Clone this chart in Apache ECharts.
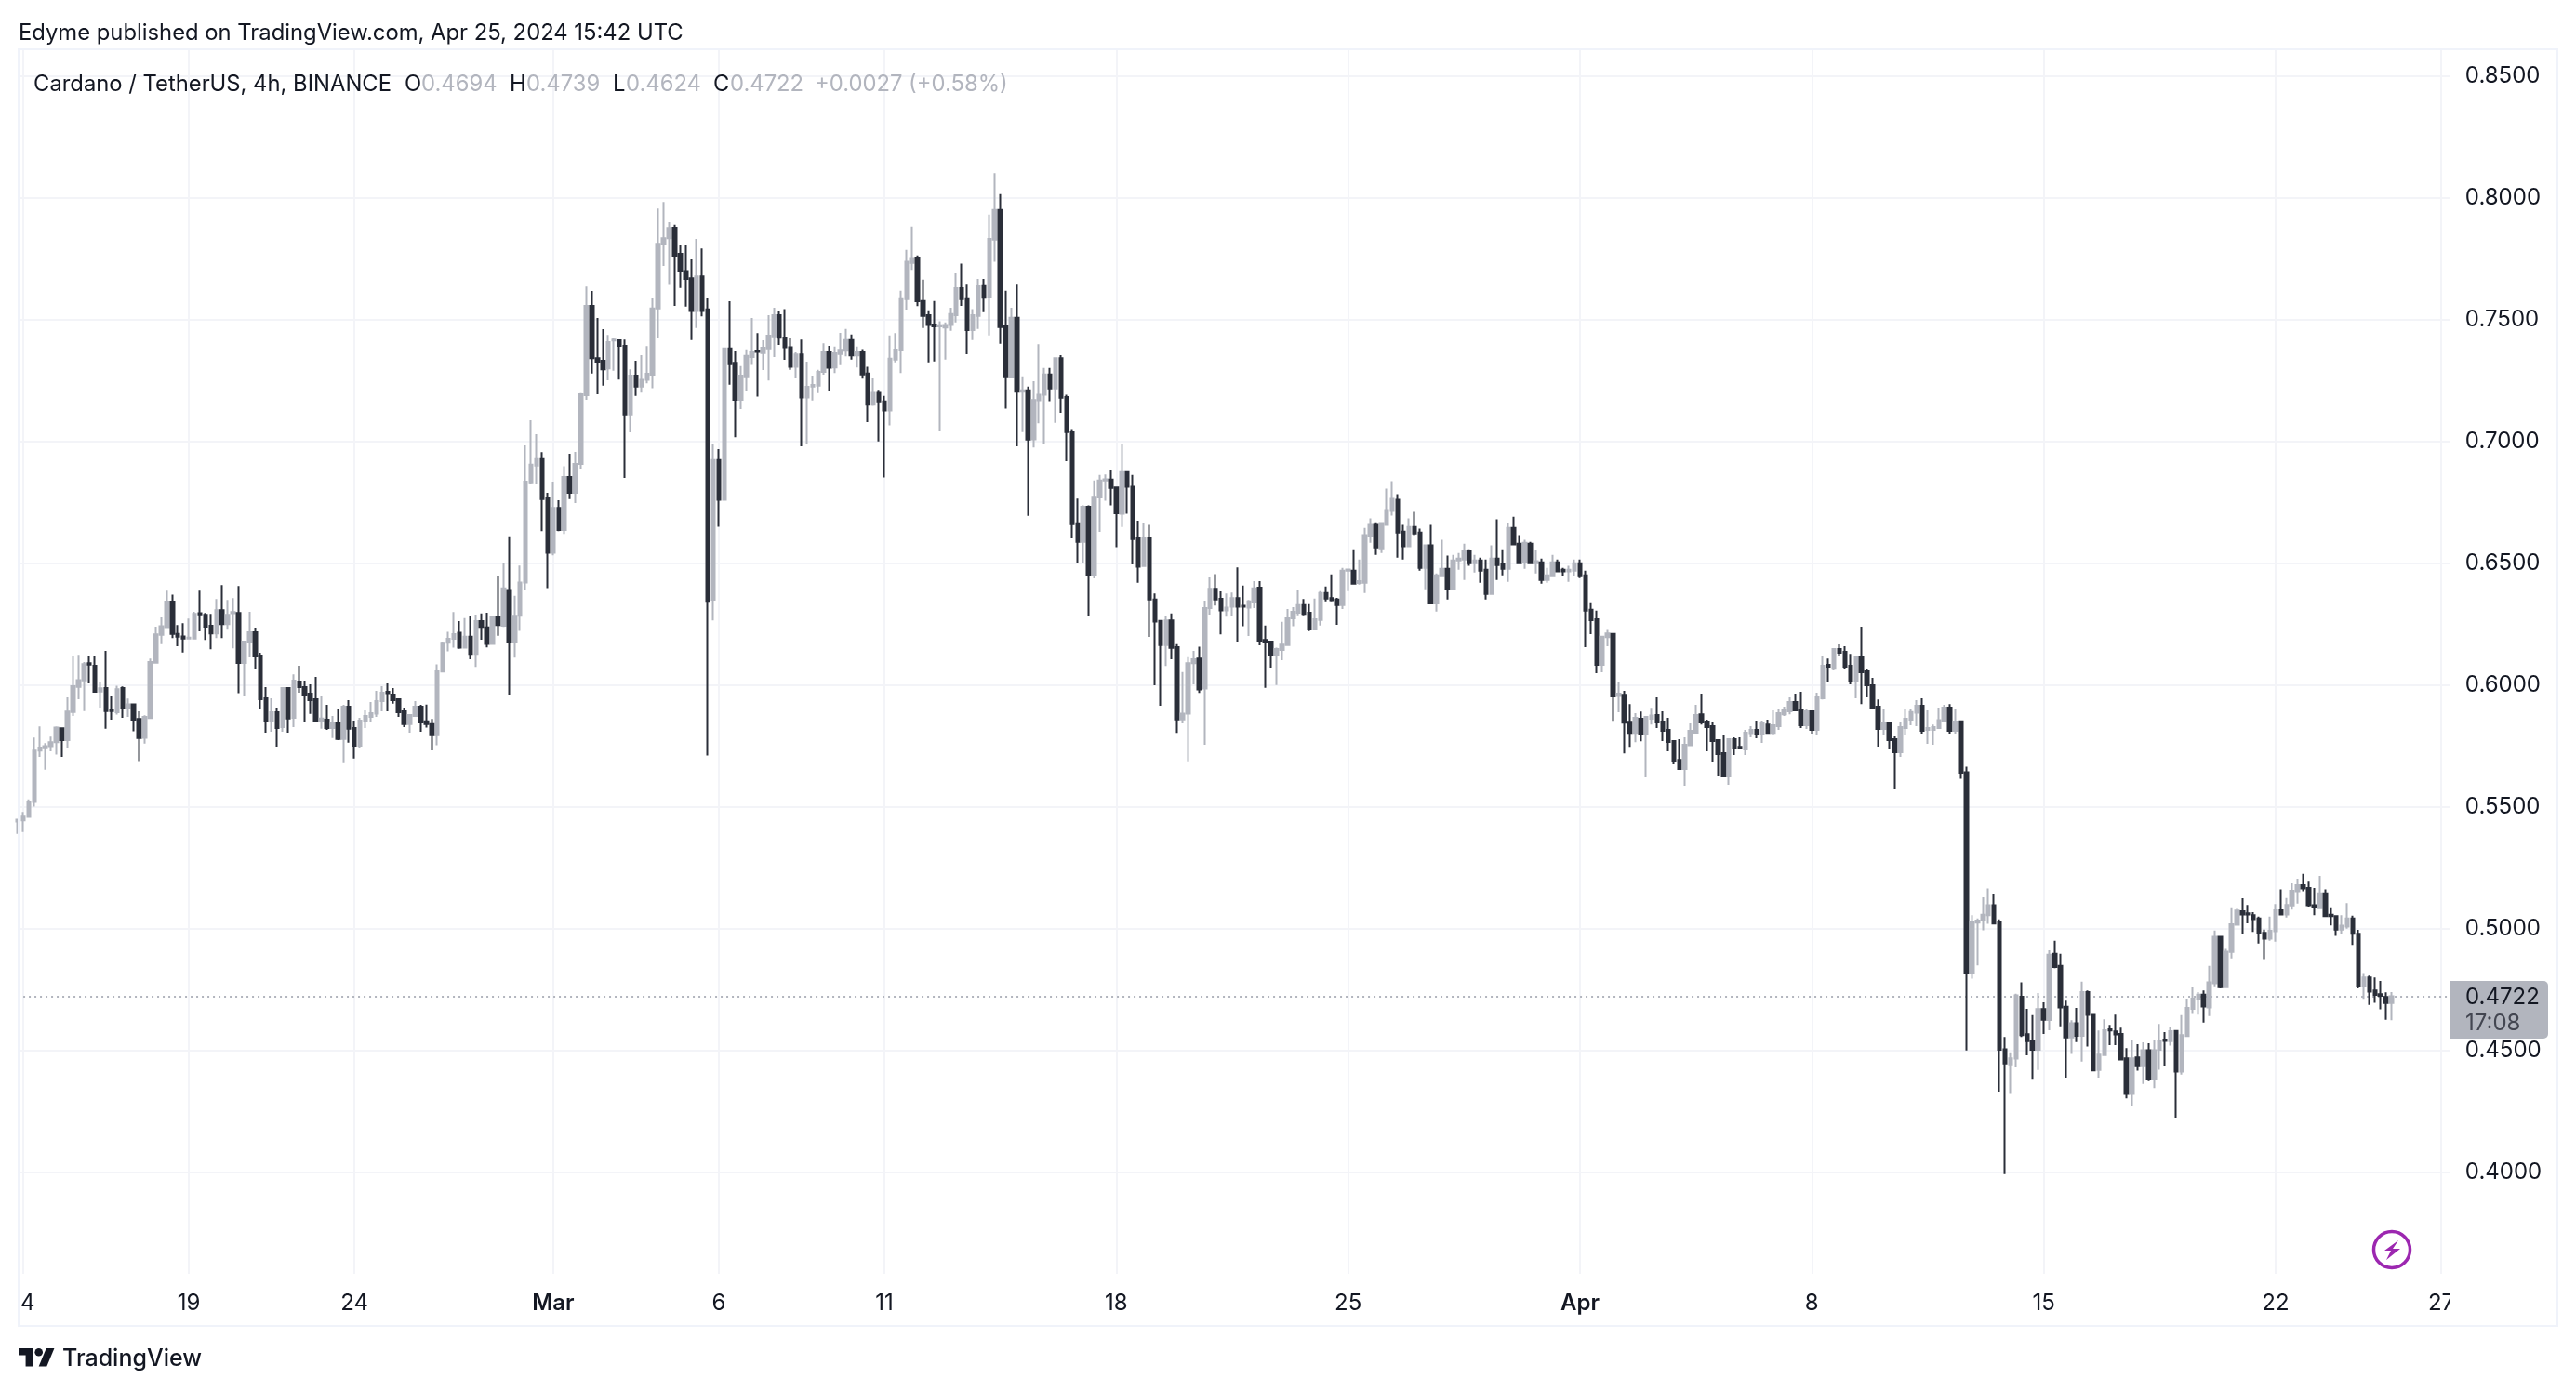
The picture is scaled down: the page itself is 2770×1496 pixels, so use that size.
<!DOCTYPE html>
<html>
<head>
<meta charset="utf-8">
<title>Cardano / TetherUS, 4h</title>
<script src="https://cdn.jsdelivr.net/npm/echarts@6/dist/echarts.min.js"></script>
<style>
  html, body { margin: 0; background: #ffffff; }
  #chart { width: 2770px; height: 1496px; }
</style>
</head>
<body>
<div id="chart"></div>
<script>
// 4h candles: [open, close, low, high]
const ohlc = [
  [.5440,.5447,.5389,.5447],[.5444,.5460,.5397,.5479],[.5459,.5522,.5459,.5530],[.5520,.5731,.5501,.5784],
  [.5731,.5743,.5705,.5830],[.5740,.5749,.5652,.5761],[.5749,.5765,.5728,.5788],[.5765,.5825,.5714,.5830],
  [.5822,.5774,.5705,.5825],[.5774,.5891,.5740,.5949],[.5889,.5995,.5873,.6117],[.5992,.6020,.5942,.6124],
  [.6019,.6086,.5893,.6094],[.6089,.6084,.6006,.6117],[.6079,.5972,.5968,.6117],[.5973,.5986,.5907,.6013],
  [.5987,.5893,.5820,.6140],[.5898,.5893,.5858,.5956],[.5888,.5983,.5879,.5997],[.5987,.5907,.5865,.5994],
  [.5907,.5921,.5869,.5944],[.5921,.5858,.5810,.5921],[.5860,.5782,.5688,.5892],[.5783,.5869,.5759,.5876],
  [.5864,.6094,.5863,.6109],[.6091,.6208,.6091,.6239],[.6206,.6241,.6168,.6277],[.6237,.6342,.6235,.6387],
  [.6342,.6210,.6193,.6371],[.6210,.6198,.6159,.6246],[.6199,.6191,.6133,.6254],[.6191,.6194,.6191,.6273],
  [.6191,.6292,.6191,.6300],[.6295,.6290,.6220,.6387],[.6288,.6239,.6185,.6296],[.6243,.6212,.6147,.6292],
  [.6212,.6307,.6193,.6353],[.6307,.6250,.6193,.6410],[.6250,.6288,.6227,.6349],[.6295,.6299,.6151,.6357],
  [.6296,.6090,.5966,.6406],[.6090,.6178,.5957,.6182],[.6178,.6216,.6113,.6300],[.6216,.6117,.6064,.6235],
  [.6121,.5942,.5903,.6132],[.5945,.5854,.5804,.5991],[.5854,.5888,.5808,.5945],[.5888,.5823,.5747,.5907],
  [.5827,.5987,.5808,.5987],[.5987,.5862,.5804,.5987],[.5865,.6018,.5827,.6044],[.6014,.5991,.5968,.6079],
  [.5991,.5961,.5846,.6018],[.5964,.5938,.5881,.6003],[.5942,.5854,.5850,.6033],[.5854,.5862,.5820,.5953],
  [.5858,.5823,.5816,.5919],[.5823,.5843,.5782,.5873],[.5843,.5778,.5774,.5900],[.5778,.5911,.5679,.5919],
  [.5911,.5820,.5763,.5938],[.5823,.5751,.5698,.5854],[.5751,.5854,.5743,.5865],[.5850,.5873,.5823,.5896],
  [.5869,.5884,.5846,.5930],[.5882,.5934,.5869,.5976],[.5934,.5968,.5892,.5995],[.5972,.5966,.5892,.6006],
  [.5961,.5938,.5923,.5987],[.5942,.5888,.5869,.5942],[.5892,.5839,.5827,.5907],[.5839,.5877,.5804,.5877],
  [.5873,.5911,.5869,.5934],[.5911,.5846,.5808,.5919],[.5851,.5839,.5825,.5920],[.5839,.5794,.5732,.5860],
  [.5794,.6056,.5753,.6085],[.6055,.6173,.6055,.6178],[.6173,.6190,.6138,.6218],[.6190,.6209,.6153,.6299],
  [.6214,.6153,.6149,.6262],[.6153,.6198,.6153,.6275],[.6198,.6128,.6106,.6284],[.6128,.6262,.6074,.6289],
  [.6262,.6238,.6186,.6294],[.6236,.6169,.6154,.6297],[.6169,.6278,.6169,.6278],[.6281,.6246,.6202,.6446],
  [.6243,.6397,.6238,.6503],[.6390,.6177,.5961,.6610],[.6177,.6284,.6112,.6366],[.6284,.6421,.6222,.6490],
  [.6421,.6835,.6390,.6984],[.6832,.6904,.6827,.7087],[.6901,.6927,.6827,.7029],[.6927,.6763,.6631,.6956],
  [.6766,.6543,.6398,.6789],[.6543,.6727,.6532,.6835],[.6727,.6636,.6631,.6758],[.6636,.6854,.6620,.6898],
  [.6854,.6789,.6763,.6949],[.6789,.6907,.6747,.6957],[.6907,.7193,.6888,.7198],[.7190,.7556,.7171,.7635],
  [.7556,.7341,.7278,.7617],[.7341,.7327,.7193,.7506],[.7331,.7296,.7229,.7461],[.7299,.7407,.7251,.7437],
  [.7414,.7418,.7290,.7423],[.7415,.7392,.7254,.7418],[.7392,.7110,.6850,.7418],[.7110,.7270,.7037,.7296],
  [.7270,.7225,.7187,.7331],[.7225,.7253,.7200,.7354],[.7253,.7277,.7238,.7391],[.7274,.7546,.7218,.7590],
  [.7546,.7811,.7423,.7956],[.7810,.7834,.7720,.7983],[.7834,.7876,.7646,.7900],[.7877,.7762,.7556,.7889],
  [.7770,.7698,.7630,.7808],[.7699,.7667,.7553,.7808],[.7670,.7535,.7416,.7747],[.7535,.7677,.7465,.7831],
  [.7677,.7535,.7513,.7792],[.7542,.6345,.5711,.7590],[.6350,.6923,.6265,.6988],[.6923,.6760,.6650,.6968],
  [.6760,.7381,.6760,.7383],[.7381,.7317,.7233,.7575],[.7322,.7171,.7017,.7370],[.7171,.7270,.7132,.7309],
  [.7267,.7351,.7206,.7378],[.7346,.7367,.7314,.7506],[.7373,.7367,.7184,.7444],[.7362,.7384,.7293,.7415],
  [.7381,.7434,.7250,.7518],[.7431,.7518,.7346,.7548],[.7518,.7425,.7396,.7537],[.7426,.7386,.7335,.7543],
  [.7386,.7306,.7294,.7423],[.7306,.7357,.7259,.7365],[.7357,.7180,.6980,.7418],[.7180,.7224,.6991,.7327],
  [.7225,.7232,.7168,.7270],[.7229,.7285,.7198,.7294],[.7285,.7365,.7274,.7402],[.7365,.7302,.7206,.7392],
  [.7303,.7361,.7280,.7389],[.7359,.7376,.7313,.7445],[.7372,.7416,.7349,.7462],[.7416,.7353,.7336,.7439],
  [.7353,.7368,.7303,.7389],[.7369,.7275,.7257,.7379],[.7278,.7151,.7079,.7306],[.7151,.7199,.7146,.7262],
  [.7199,.7164,.7000,.7212],[.7164,.7127,.6852,.7187],[.7127,.7339,.7066,.7435],[.7336,.7377,.7324,.7444],
  [.7376,.7588,.7280,.7618],[.7584,.7737,.7541,.7786],[.7733,.7753,.7704,.7881],[.7755,.7575,.7555,.7763],
  [.7576,.7515,.7465,.7664],[.7518,.7478,.7324,.7538],[.7480,.7472,.7328,.7576],[.7472,.7477,.7041,.7493],
  [.7467,.7478,.7336,.7488],[.7478,.7523,.7454,.7548],[.7518,.7629,.7488,.7690],[.7629,.7584,.7556,.7730],
  [.7588,.7457,.7358,.7647],[.7457,.7518,.7416,.7543],[.7515,.7637,.7462,.7667],[.7641,.7589,.7530,.7667],
  [.7591,.7831,.7435,.7931],[.7828,.7950,.7737,.8101],[.7950,.7469,.7401,.8015],[.7472,.7267,.7134,.7618],
  [.7263,.7507,.7263,.7548],[.7507,.7204,.6980,.7647],[.7204,.7210,.7038,.7267],[.7210,.7007,.6694,.7225],
  [.7008,.7170,.6975,.7247],[.7169,.7192,.7074,.7399],[.7192,.7275,.6988,.7301],[.7275,.7217,.7165,.7301],
  [.7217,.7341,.7076,.7344],[.7341,.7179,.7117,.7354],[.7182,.7038,.6919,.7192],[.7041,.6660,.6602,.7050],
  [.6664,.6588,.6500,.6765],[.6588,.6732,.6503,.6737],[.6732,.6453,.6285,.6737],[.6453,.6773,.6438,.6839],
  [.6770,.6839,.6629,.6862],[.6839,.6844,.6756,.6864],[.6843,.6809,.6737,.6881],[.6811,.6705,.6566,.6811],
  [.6703,.6874,.6649,.6988],[.6874,.6814,.6703,.6877],[.6814,.6599,.6495,.6862],[.6602,.6485,.6420,.6674],
  [.6488,.6602,.6488,.6665],[.6602,.6351,.6197,.6657],[.6351,.6260,.5999,.6376],[.6263,.6164,.5915,.6265],
  [.6164,.6265,.6078,.6285],[.6265,.6152,.6106,.6294],[.6155,.5859,.5803,.6168],[.5859,.5882,.5842,.6053],
  [.5882,.6089,.5687,.6114],[.6089,.6106,.6003,.6140],[.6109,.5982,.5967,.6157],[.5985,.6316,.5755,.6346],
  [.6316,.6395,.6289,.6442],[.6395,.6351,.6326,.6455],[.6354,.6306,.6208,.6384],[.6306,.6318,.6280,.6376],
  [.6321,.6357,.6283,.6380],[.6357,.6321,.6178,.6483],[.6325,.6321,.6241,.6408],[.6318,.6343,.6201,.6349],
  [.6339,.6397,.6316,.6426],[.6400,.6182,.6163,.6426],[.6185,.6176,.5988,.6244],[.6178,.6125,.6071,.6178],
  [.6125,.6148,.6000,.6153],[.6144,.6166,.6102,.6259],[.6164,.6274,.6164,.6312],[.6274,.6300,.6241,.6319],
  [.6297,.6328,.6286,.6392],[.6328,.6292,.6286,.6353],[.6297,.6228,.6221,.6332],[.6228,.6270,.6224,.6355],
  [.6267,.6378,.6244,.6385],[.6378,.6355,.6343,.6404],[.6357,.6348,.6343,.6454],[.6351,.6328,.6247,.6358],
  [.6328,.6469,.6312,.6481],[.6469,.6474,.6385,.6474],[.6469,.6416,.6416,.6557],[.6419,.6426,.6412,.6515],
  [.6420,.6615,.6378,.6645],[.6611,.6657,.6584,.6684],[.6657,.6565,.6534,.6668],[.6561,.6665,.6542,.6668],
  [.6657,.6718,.6657,.6806],[.6714,.6764,.6695,.6837],[.6760,.6626,.6523,.6783],[.6630,.6569,.6515,.6657],
  [.6569,.6649,.6569,.6684],[.6649,.6622,.6615,.6711],[.6626,.6481,.6469,.6642],[.6481,.6573,.6393,.6573],
  [.6573,.6335,.6332,.6657],[.6335,.6450,.6301,.6458],[.6446,.6477,.6446,.6596],[.6477,.6393,.6351,.6531],
  [.6393,.6511,.6393,.6534],[.6511,.6519,.6473,.6542],[.6515,.6550,.6431,.6580],[.6550,.6500,.6489,.6557],
  [.6500,.6511,.6462,.6534],[.6511,.6469,.6420,.6523],[.6473,.6374,.6351,.6515],[.6374,.6519,.6370,.6573],
  [.6519,.6492,.6431,.6680],[.6496,.6477,.6450,.6557],[.6477,.6645,.6423,.6665],[.6645,.6577,.6573,.6691],
  [.6580,.6500,.6500,.6615],[.6504,.6584,.6477,.6596],[.6580,.6500,.6496,.6588],[.6500,.6508,.6458,.6554],
  [.6504,.6431,.6416,.6519],[.6431,.6450,.6420,.6481],[.6446,.6504,.6443,.6534],[.6504,.6466,.6466,.6515],
  [.6473,.6466,.6446,.6481],[.6466,.6473,.6423,.6489],[.6469,.6500,.6446,.6515],[.6500,.6446,.6439,.6515],
  [.6450,.6305,.6155,.6469],[.6309,.6266,.6209,.6339],[.6270,.6083,.6048,.6305],[.6083,.6198,.6052,.6201],
  [.6196,.6212,.6159,.6226],[.6210,.5953,.5853,.6212],[.5955,.5964,.5888,.6014],[.5960,.5845,.5719,.5976],
  [.5849,.5803,.5746,.5922],[.5803,.5865,.5765,.5884],[.5861,.5799,.5769,.5891],[.5800,.5869,.5621,.5869],
  [.5861,.5875,.5838,.5906],[.5877,.5846,.5823,.5949],[.5850,.5812,.5770,.5892],[.5816,.5766,.5728,.5865],
  [.5770,.5690,.5674,.5770],[.5693,.5655,.5655,.5777],[.5655,.5755,.5587,.5785],[.5753,.5812,.5751,.5842],
  [.5804,.5877,.5800,.5919],[.5880,.5846,.5838,.5964],[.5850,.5827,.5728,.5858],[.5831,.5770,.5682,.5846],
  [.5774,.5716,.5625,.5774],[.5720,.5625,.5625,.5793],[.5625,.5777,.5590,.5777],[.5777,.5739,.5713,.5785],
  [.5746,.5739,.5735,.5785],[.5735,.5804,.5713,.5816],[.5802,.5816,.5785,.5831],[.5816,.5800,.5781,.5854],
  [.5800,.5842,.5762,.5854],[.5838,.5803,.5800,.5858],[.5803,.5835,.5796,.5896],[.5831,.5884,.5816,.5903],
  [.5880,.5896,.5873,.5911],[.5892,.5930,.5880,.5949],[.5930,.5896,.5892,.5964],[.5900,.5835,.5823,.5972],
  [.5835,.5892,.5819,.5903],[.5892,.5816,.5800,.5892],[.5816,.5949,.5793,.5968],[.5945,.6079,.5941,.6117],
  [.6083,.6075,.6014,.6109],[.6067,.6148,.6060,.6151],[.6148,.6132,.6117,.6167],[.6136,.6075,.6064,.6159],
  [.6079,.6018,.6003,.6128],[.6018,.6117,.5945,.6117],[.6117,.6052,.5922,.6239],[.6056,.5999,.5949,.6067],
  [.5999,.5907,.5903,.6029],[.5911,.5819,.5747,.5941],[.5819,.5842,.5796,.5900],[.5842,.5774,.5735,.5842],
  [.5777,.5724,.5571,.5789],[.5724,.5827,.5705,.5850],[.5823,.5861,.5796,.5900],[.5858,.5889,.5835,.5903],
  [.5886,.5915,.5831,.5938],[.5915,.5812,.5800,.5945],[.5816,.5823,.5758,.5896],[.5816,.5827,.5755,.5838],
  [.5823,.5856,.5823,.5907],[.5854,.5907,.5850,.5919],[.5907,.5812,.5800,.5922],[.5812,.5850,.5800,.5900],
  [.5851,.5640,.5615,.5855],[.5642,.4818,.4500,.5665],[.4818,.5026,.4795,.5055],[.5025,.5033,.4849,.5042],
  [.5034,.5057,.4993,.5129],[.5055,.5096,.5020,.5165],[.5096,.5021,.5018,.5141],[.5026,.4503,.4331,.5038],
  [.4505,.4446,.3992,.4555],[.4443,.4467,.4321,.4492],[.4466,.4726,.4430,.4733],[.4720,.4563,.4555,.4779],
  [.4567,.4538,.4480,.4671],[.4541,.4503,.4383,.4645],[.4503,.4670,.4420,.4735],[.4670,.4626,.4568,.4697],
  [.4625,.4893,.4583,.4911],[.4897,.4842,.4838,.4950],[.4847,.4676,.4599,.4897],[.4679,.4553,.4388,.4704],
  [.4553,.4611,.4485,.4624],[.4611,.4560,.4534,.4674],[.4560,.4739,.4454,.4782],[.4739,.4646,.4516,.4746],
  [.4646,.4418,.4414,.4647],[.4420,.4483,.4388,.4582],[.4481,.4583,.4481,.4628],[.4587,.4582,.4522,.4605],
  [.4578,.4566,.4522,.4647],[.4568,.4463,.4463,.4593],[.4467,.4321,.4303,.4509],[.4321,.4467,.4271,.4545],
  [.4471,.4435,.4417,.4526],[.4435,.4501,.4362,.4533],[.4501,.4384,.4374,.4529],[.4384,.4501,.4345,.4545],
  [.4503,.4539,.4421,.4609],[.4545,.4539,.4434,.4575],[.4538,.4579,.4520,.4597],[.4580,.4413,.4224,.4580],
  [.4413,.4563,.4401,.4645],[.4559,.4674,.4559,.4713],[.4671,.4713,.4650,.4758],[.4711,.4729,.4647,.4739],
  [.4729,.4680,.4614,.4746],[.4676,.4779,.4641,.4847],[.4776,.4966,.4763,.4992],[.4966,.4759,.4755,.4966],
  [.4759,.4905,.4759,.4917],[.4904,.5018,.4878,.5084],[.5016,.5074,.5016,.5082],[.5071,.5058,.4979,.5125],
  [.5063,.5058,.5022,.5097],[.5055,.5039,.4986,.5068],[.5042,.4980,.4939,.5049],[.4983,.4959,.4875,.4996],
  [.4959,.4991,.4950,.5049],[.4989,.5075,.4946,.5101],[.5075,.5058,.5058,.5161],[.5058,.5097,.5046,.5126],
  [.5095,.5155,.5078,.5186],[.5153,.5178,.5103,.5205],[.5178,.5165,.5153,.5225],[.5167,.5096,.5089,.5193],
  [.5096,.5087,.5055,.5167],[.5084,.5145,.5084,.5216],[.5145,.5051,.5051,.5161],[.5057,.5051,.5013,.5084],
  [.5051,.4996,.4970,.5055],[.4996,.5012,.4979,.5055],[.5008,.5042,.5000,.5105],[.5042,.4979,.4933,.5053],
  [.4979,.4763,.4755,.4995],[.4762,.4799,.4712,.4818],[.4799,.4741,.4687,.4807],[.4746,.4728,.4695,.4799],
  [.4731,.4724,.4669,.4785],[.4719,.4694,.4626,.4738],[.4694,.4722,.4624,.4739]
]

const firstCandleTime = Date.UTC(2024, 1, 13, 20)
const fourHours = 4 * 3600 * 1000
const slotCount = 442 // candles plus the empty slots up to the price scale

const tickDays = ['2024-02-14', '2024-02-19', '2024-02-24', '2024-03-01', '2024-03-06', '2024-03-11', '2024-03-18',
  '2024-03-25', '2024-04-01', '2024-04-08', '2024-04-15', '2024-04-22', '2024-04-27']
const tickLabels = ['14', '19', '24', 'Mar', '6', '11', '18', '25', 'Apr', '8', '15', '22', '27']
const priceTicks = [0.40, 0.45, 0.50, 0.55, 0.60, 0.65, 0.70, 0.75, 0.80, 0.85]
const lastPrice = 0.4722
const countdown = '17:08'

const categories = []
for (let i = 0; i < slotCount; i++) {
  categories.push(new Date(firstCandleTime + i * fourHours).toISOString().slice(0, 13))
}
const labelByCategory = {}
tickDays.forEach((d, i) => { labelByCategory[d + 'T00'] = tickLabels[i] })
const isTick = (index, value) => value in labelByCategory

const FONT = 'Inter, "Noto Sans", sans-serif'
const INK = '#131722'
const MUTED = '#b2b5be'
const DOWN = '#2a2e39'
const GRID = '#f3f4f8'
const FRAME = '#f0f3fa'

const myChart = echarts.init(document.getElementById('chart'))

const headerParts = [
  ['Cardano / TetherUS, 4h, BINANCE', 36, INK],
  ['O', 435, INK], ['0.4694', 453, MUTED],
  ['H', 548, INK], ['0.4739', 566, MUTED],
  ['L', 659, INK], ['0.4624', 673, MUTED],
  ['C', 767, INK], ['0.4722', 785, MUTED],
  ['+0.0027 (+0.58%)', 876, MUTED]
]

const logoScale = { x: 20, y: 1445.6, scaleX: 1.083, scaleY: 1.083 }

const graphics = [
  // hides what sticks out of the pane: half of "14", half of "27", grid ends
  { type: 'rect', z: 50, shape: { x: 0, y: 1376, width: 20, height: 48 }, style: { fill: '#fff' } },
  { type: 'rect', z: 50, shape: { x: 2634, y: 1376, width: 60, height: 48 }, style: { fill: '#fff' } },
  { type: 'rect', z: 50, shape: { x: 2634, y: 54, width: 10, height: 1322 }, style: { fill: '#fff' } },
  { type: 'rect', z: 51, shape: { x: 20, y: 53, width: 2730, height: 1373 },
    style: { fill: 'none', stroke: FRAME, lineWidth: 2 } },
  { type: 'text', z: 60, x: 20, y: 36, style: { text: 'Edyme published on TradingView.com, Apr 25, 2024 15:42 UTC',
    font: '23.8px ' + FONT, fill: INK, textVerticalAlign: 'middle' } },
  // lightning mark
  { type: 'circle', z: 60, shape: { cx: 2572, cy: 1344, r: 19.5 }, style: { fill: 'none', stroke: '#9c27b0', lineWidth: 3.5 } },
  { type: 'polygon', z: 60, shape: { points: [[2579, 1334], [2564, 1345], [2571, 1345], [2566, 1355], [2581, 1343], [2573, 1343]] },
    style: { fill: '#9c27b0' } },
  // logo
  Object.assign({ type: 'polygon', z: 60, shape: { points: [[14, 22], [7, 22], [7, 11], [0, 11], [0, 4], [14, 4]] }, style: { fill: INK } }, logoScale),
  Object.assign({ type: 'polygon', z: 60, shape: { points: [[28, 22], [20, 22], [27.5, 4], [35.5, 4]] }, style: { fill: INK } }, logoScale),
  { type: 'circle', z: 60, shape: { cx: 41.7, cy: 1454.3, r: 4.3 }, style: { fill: INK } },
  { type: 'text', z: 60, x: 67, y: 1461, style: { text: 'TradingView', font: '500 25px ' + FONT, fill: INK, textVerticalAlign: 'middle' } }
]
headerParts.forEach(p => {
  graphics.push({ type: 'text', z: 60, x: p[1], y: 91,
    style: { text: p[0], font: '23.8px ' + FONT, fill: p[2], textVerticalAlign: 'middle' } })
})

const option = {
  animation: false,
  backgroundColor: '#ffffff',
  grid: { left: 19.06, top: 53, width: 2617.8, height: 1317, containLabel: false },
  xAxis: {
    type: 'category',
    data: categories,
    boundaryGap: false,
    axisLine: { show: false },
    axisTick: { show: false, interval: isTick },
    axisLabel: {
      interval: isTick,
      margin: 20,
      color: INK,
      fontFamily: FONT,
      fontSize: 24,
      hideOverlap: false,
      formatter: v => {
        const t = labelByCategory[v]
        return t === 'Mar' || t === 'Apr' ? '{b|' + t + '}' : t
      },
      rich: { b: { fontWeight: 600, fontSize: 24, fontFamily: FONT, color: INK } }
    },
    splitLine: { show: true, interval: isTick, lineStyle: { color: GRID, width: 2 } }
  },
  yAxis: {
    type: 'value',
    position: 'right',
    min: 0.35828,
    max: 0.86095,
    axisLine: { show: false },
    axisTick: { show: false, customValues: priceTicks },
    axisLabel: {
      customValues: priceTicks,
      margin: 14,
      padding: [3, 0, 0, 0],
      color: INK,
      fontFamily: FONT,
      fontSize: 24,
      formatter: v => v.toFixed(4)
    },
    splitLine: { show: true, lineStyle: { color: GRID, width: 2 } }
  },
  series: [{
    type: 'candlestick',
    data: ohlc,
    barWidth: 4,
    clip: true,
    itemStyle: { color: MUTED, color0: DOWN, borderColor: MUTED, borderColor0: DOWN, borderWidth: 2 },
    markLine: {
      silent: true,
      symbol: 'none',
      precision: 4,
      z: 1,
      label: { show: false },
      lineStyle: { color: MUTED, type: [2, 4], width: 2 },
      data: [{ yAxis: lastPrice }]
    }
  }],
  graphic: graphics
}
myChart.setOption(option)

// price tag sits on the scale at the last price
const tagY = myChart.convertToPixel({ yAxisIndex: 0 }, lastPrice)
myChart.setOption({ graphic: graphics.concat([
  { type: 'rect', z: 55, shape: { x: 2634, y: tagY - 16.5, width: 106, height: 62, r: [0, 5, 5, 0] }, style: { fill: MUTED } },
  { type: 'text', z: 60, x: 2651, y: tagY + 1, style: { text: lastPrice.toFixed(4), font: '24px ' + FONT, fill: INK, textVerticalAlign: 'middle' } },
  { type: 'text', z: 60, x: 2651, y: tagY + 29, style: { text: countdown, font: '24px ' + FONT, fill: '#434651', textVerticalAlign: 'middle' } }
]) })

window.addEventListener('resize', function () {
  myChart.resize()
})
</script>
</body>
</html>
